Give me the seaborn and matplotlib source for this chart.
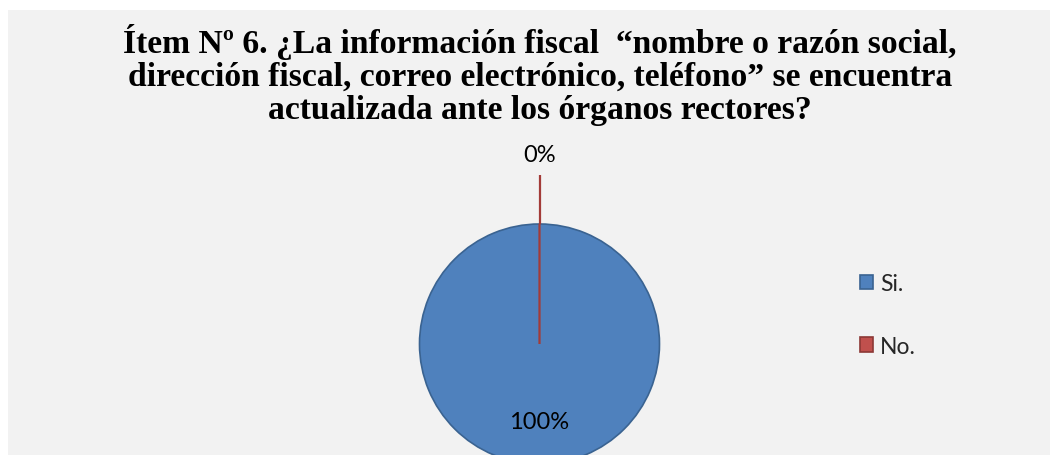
import numpy as np
import matplotlib.pyplot as plt
import seaborn as sns
from matplotlib.patches import Rectangle, Patch

sns.set_theme(style="white")

# Data
categories = ["Si.", "No."]
values = [100, 0]
pct_labels = ["100%", "0%"]
colors = ["#4f81bd", "#c0504d"]
edge_colors = ["#3a6391", "#a33b38"]

title = ("Ítem Nº 6. ¿La información fiscal  “nombre o razón social,\n"
         "dirección fiscal, correo electrónico, teléfono” se encuentra\n"
         "actualizada ante los órganos rectores?")

W, H = 1050, 456
fig = plt.figure(figsize=(W / 100, H / 100), dpi=100, facecolor="white")
fig.patches.append(Rectangle((8 / W, 0), 1, (H - 11) / H, transform=fig.transFigure,
                             facecolor="#f2f2f2", edgecolor="none", zorder=-5))

fig.text(540 / W, (H - 75) / H, title, ha="center", va="center",
         fontsize=24.2, fontweight="bold", family="Liberation Serif",
         linespacing=1.08, color="black")

# pie axes: centre ~ (539.5, 345) px, radius ~120 px
cx, cy, r = 539.5, 345, 120
ax = fig.add_axes([(cx - r) / W, (H - cy - r) / H, 2 * r / W, 2 * r / H])
ax.set_facecolor("none")
wedges, _ = ax.pie(values, colors=colors, startangle=90, counterclock=False,
                   radius=1, wedgeprops=dict(linewidth=1.2))
for w, ec in zip(wedges, edge_colors):
    w.set_edgecolor(ec)
wedges[1].set_linewidth(1.6)
ax.set_xlim(-1, 1)
ax.set_ylim(-1, 1)
ax.set_aspect("equal")
ax.axis("off")

# labels: inside for big slice, outside with leader line for the zero slice
label_dist = [0.65, 1.58]
for w, lab, d in zip(wedges, pct_labels, label_dist):
    ang = np.deg2rad((w.theta1 + w.theta2) / 2)
    ax.text(d * np.cos(ang), d * np.sin(ang), lab, ha="center", va="center",
            fontsize=17, family="Lato", color="black", clip_on=False)
ang0 = np.deg2rad((wedges[1].theta1 + wedges[1].theta2) / 2)
ax.plot([np.cos(ang0), 1.41 * np.cos(ang0)], [np.sin(ang0), 1.41 * np.sin(ang0)],
        color=edge_colors[1], lw=1.6, clip_on=False, solid_capstyle="butt")

handles = [Patch(facecolor=c, edgecolor=e, linewidth=1.2) for c, e in zip(colors, ["#3a6391", "#8c3836"])]
fig.legend(handles, categories, loc="center left", bbox_to_anchor=(860 / W, (H - 316) / H),
           frameon=False, borderpad=0, borderaxespad=0, handlelength=0.58, handleheight=0.58,
           handletextpad=0.3, labelspacing=1.8, prop=dict(family="Lato", size=16.5))

fig.savefig("out.png", dpi=100, facecolor=fig.get_facecolor())
